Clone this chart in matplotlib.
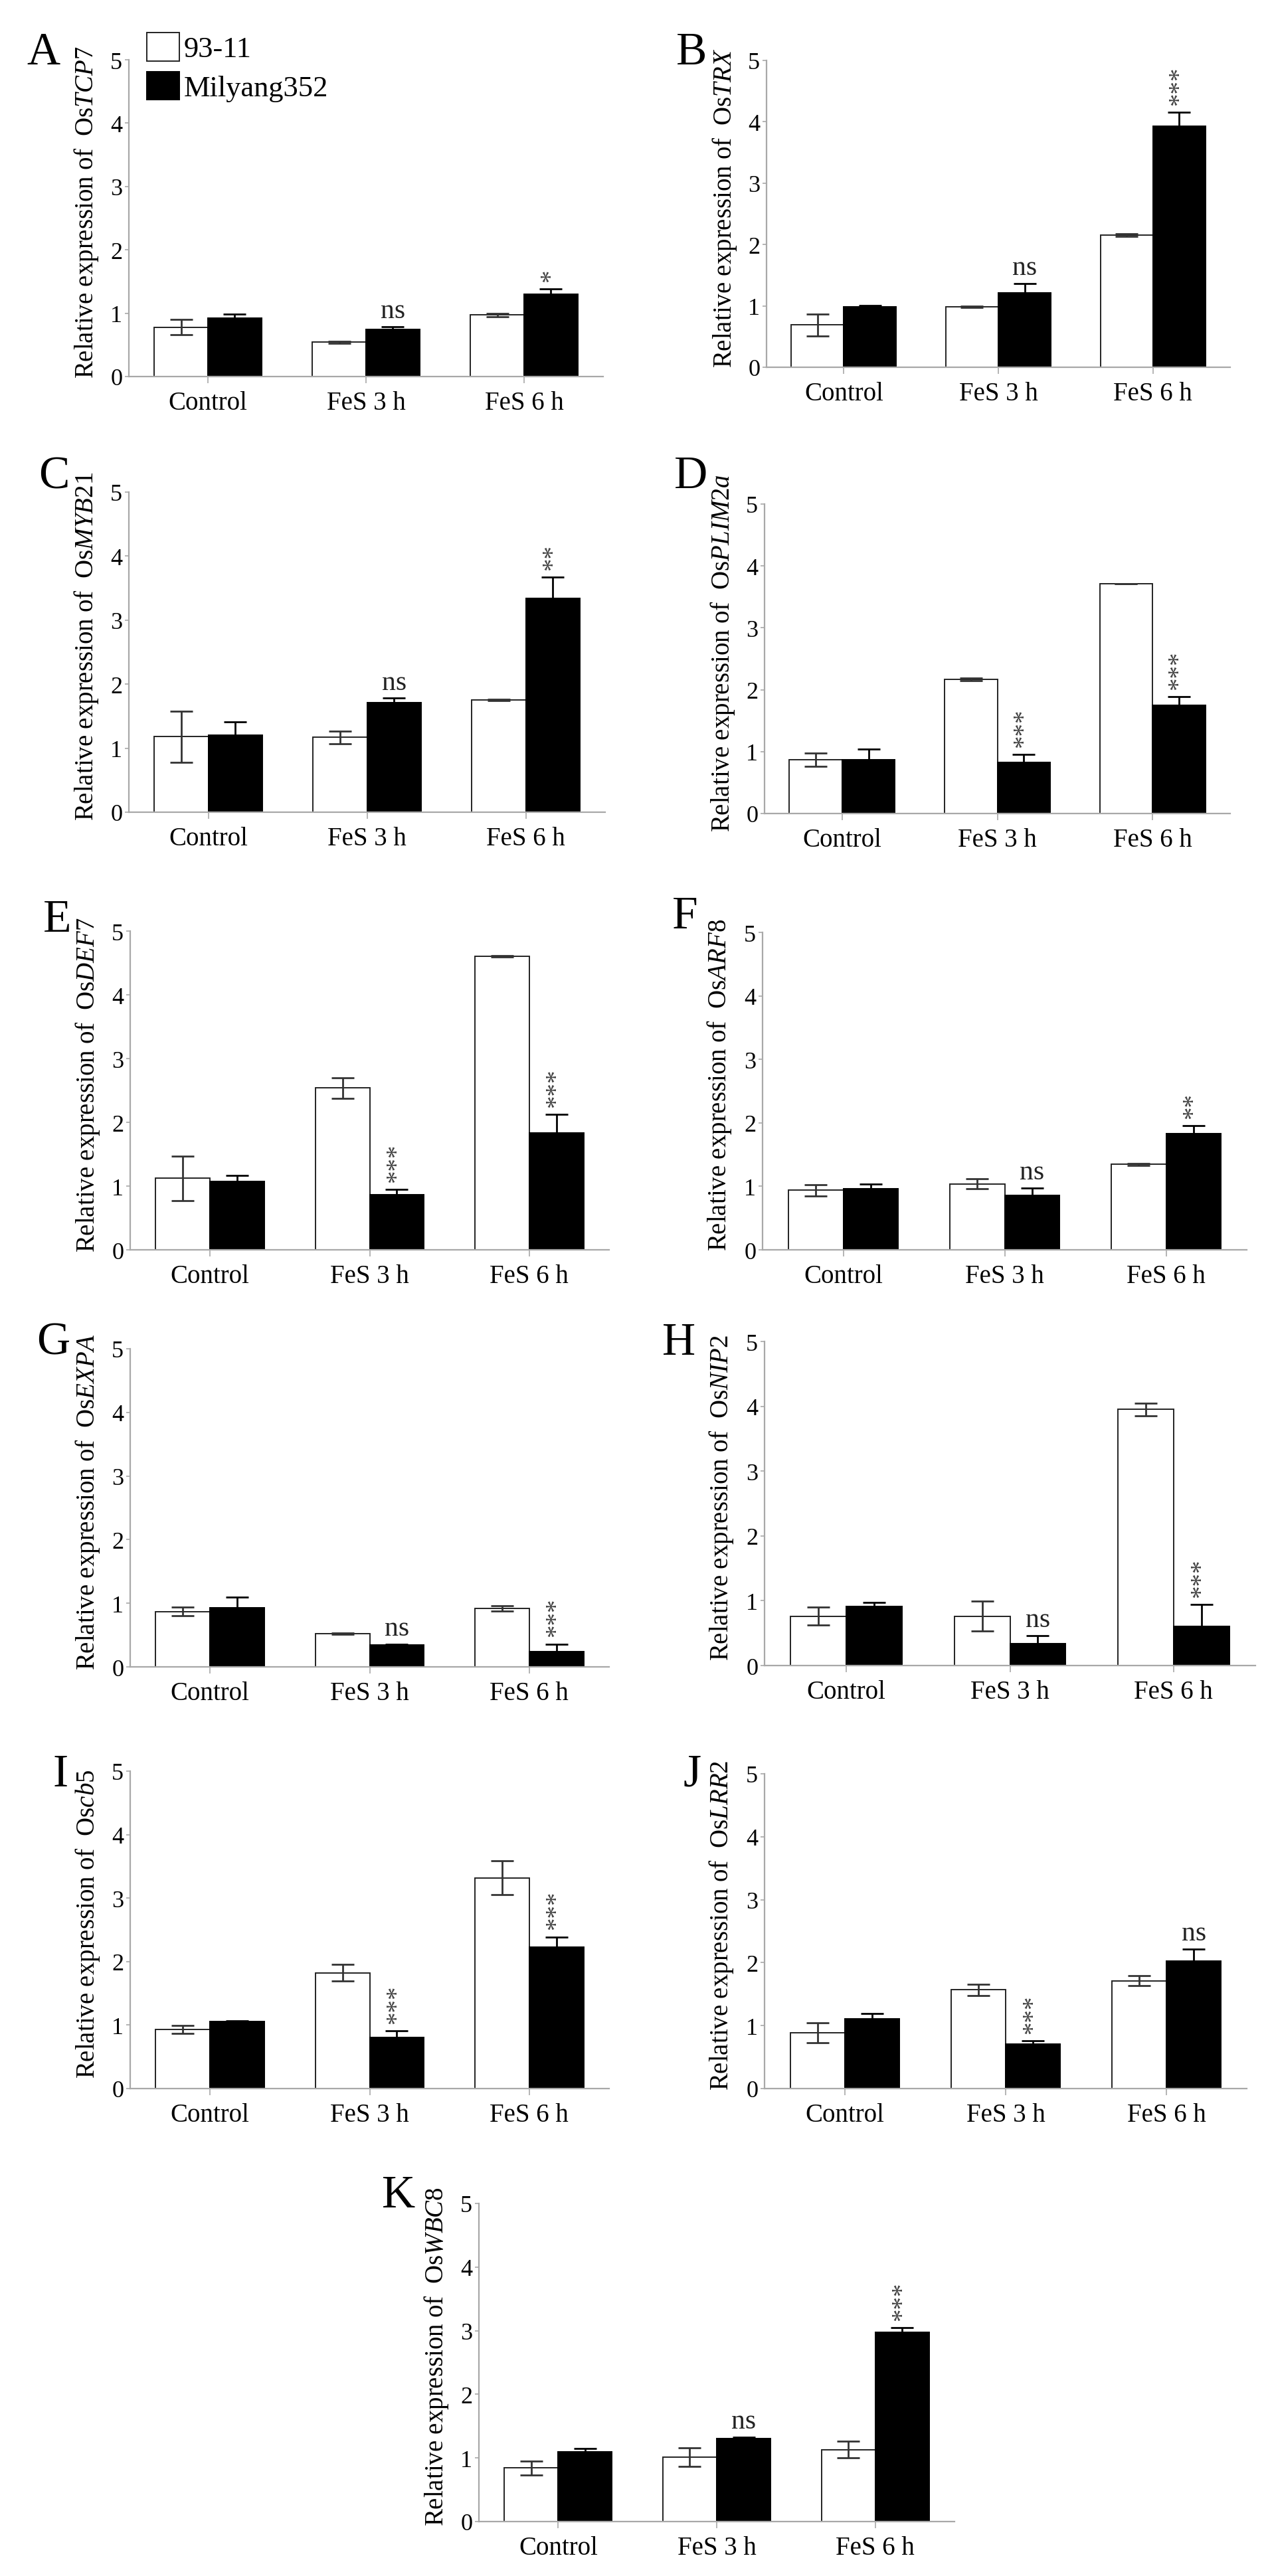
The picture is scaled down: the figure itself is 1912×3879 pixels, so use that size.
import matplotlib
matplotlib.use("Agg")
import matplotlib.pyplot as plt

plt.rcParams['font.family'] = ['Liberation Serif', 'DejaVu Serif']
plt.rcParams['mathtext.fontset'] = 'custom'
plt.rcParams['mathtext.rm'] = 'Liberation Serif'
plt.rcParams['mathtext.it'] = 'Liberation Serif:italic'

W, H = 1912, 3880

categories = ["Control", "FeS 3 h", "FeS 6 h"]
series_names = ["93-11", "Milyang352"]

panel_letters = ["A", "B", "C", "D", "E", "F", "G", "H", "I", "J", "K"]
genes = ["TCP7", "TRX", "MYB21", "PLIM2a", "DEF7", "ARF8",
         "EXPA", "NIP2", "cb5", "LRR2", "WBC8"]

# 93-11 (white bars)
white_mean = [
    [0.78, 0.54, 0.97],
    [0.69, 0.985, 2.15],
    [1.18, 1.17, 1.75],
    [0.87, 2.17, 3.71],
    [1.12, 2.54, 4.60],
    [0.94, 1.04, 1.345],
    [0.87, 0.52, 0.92],
    [0.76, 0.76, 3.95],
    [0.93, 1.825, 3.32],
    [0.885, 1.57, 1.71],
    [0.845, 1.01, 1.13],
]
white_err = [
    [0.12, 0.02, 0.03],
    [0.18, 0.01, 0.02],
    [0.40, 0.10, 0.01],
    [0.11, 0.02, 0.0],
    [0.35, 0.16, 0.01],
    [0.09, 0.08, 0.02],
    [0.07, 0.01, 0.04],
    [0.14, 0.23, 0.10],
    [0.06, 0.13, 0.27],
    [0.16, 0.09, 0.08],
    [0.11, 0.145, 0.13],
]
# Milyang352 (black bars)
black_mean = [
    [0.92, 0.74, 1.30],
    [0.99, 1.215, 3.925],
    [1.20, 1.71, 3.34],
    [0.87, 0.83, 1.75],
    [1.07, 0.86, 1.83],
    [0.96, 0.855, 1.83],
    [0.93, 0.34, 0.24],
    [0.915, 0.34, 0.605],
    [1.06, 0.81, 2.23],
    [1.11, 0.705, 2.03],
    [1.10, 1.30, 2.98],
]
black_err = [
    [0.07, 0.05, 0.08],
    [0.02, 0.15, 0.235],
    [0.21, 0.07, 0.33],
    [0.17, 0.12, 0.14],
    [0.10, 0.09, 0.29],
    [0.08, 0.12, 0.125],
    [0.17, 0.02, 0.12],
    [0.06, 0.12, 0.34],
    [0.01, 0.10, 0.16],
    [0.08, 0.05, 0.19],
    [0.05, 0.03, 0.065],
]
# significance for FeS 3 h and FeS 6 h
signif = [
    ["ns", "*"],
    ["ns", "***"],
    ["ns", "**"],
    ["***", "***"],
    ["***", "***"],
    ["ns", "**"],
    ["ns", "***"],
    ["ns", "***"],
    ["***", "***"],
    ["***", "ns"],
    ["ns", "***"],
]

# axes boxes in pixels: left, right, y of value 0, y of value 5
boxes = [
    (194, 908, 568, 91),
    (1154, 1852, 554, 92),
    (194, 911, 1224, 742),
    (1151, 1852, 1226, 760),
    (196, 917, 1883, 1403),
    (1148, 1877, 1883, 1405),
    (196, 917, 2511, 2032),
    (1151, 1890, 2509, 2021),
    (196, 917, 3146, 2668),
    (1151, 1877, 3146, 2672),
    (721, 1437, 3798, 3319),
]
# panel letter: x left, baseline y (pixels)
letter_pos = [(40, 97), (1018, 97), (58, 735), (1015, 735), (65, 1403),
              (1012, 1398), (55, 2040), (997, 2040), (80, 2690),
              (1028, 2690), (575, 3324)]

fig = plt.figure(figsize=(W / 100, H / 100), dpi=100)
fig.patch.set_facecolor('white')

spine_col = '#a8a8a8'
x = [0.5, 1.5, 2.5]
bw = 0.34

for i in range(len(genes)):
    l, r, y0, y5 = boxes[i]
    ax = fig.add_axes([l / W, 1 - y0 / H, (r - l) / W, (y0 - y5) / H])
    xw = [v - bw / 2 for v in x]
    xb = [v + bw / 2 for v in x]
    bw_bars = ax.bar(xw, white_mean[i], bw, color='white', edgecolor='#222222',
                     linewidth=1.4, zorder=2, label=series_names[0])
    bb_bars = ax.bar(xb, black_mean[i], bw, color='black', edgecolor='black',
                     linewidth=1.4, zorder=2, label=series_names[1])
    ax.errorbar(xw, white_mean[i], yerr=white_err[i], fmt='none', ecolor='#333333',
                elinewidth=2, capsize=12, capthick=2, zorder=3)
    ax.errorbar(xb, black_mean[i], yerr=black_err[i], fmt='none', ecolor='black',
                elinewidth=2, capsize=12, capthick=2, zorder=3)

    for k, s in enumerate(signif[i]):
        j = k + 1
        top = black_mean[i][j] + black_err[i][j]
        if s == "ns":
            ax.annotate(s, (xb[j], top), xytext=(0, 10), textcoords='offset points',
                        ha='center', va='baseline', fontsize=30, color='#222222')
        else:
            ax.annotate(s, (xb[j], top), xytext=(0, 8), textcoords='offset points',
                        ha='center', va='bottom', fontsize=28, color='#444444',
                        rotation=90)

    ax.set_xlim(0, 3)
    ax.set_ylim(0, 5)
    ax.set_yticks([0, 1, 2, 3, 4, 5])
    ax.set_yticklabels(["0", "1", "2", "3", "4", "5"])
    ax.set_xticks(x)
    ax.set_xticklabels(categories)
    for sp in ['top', 'right']:
        ax.spines[sp].set_visible(False)
    for sp in ['left', 'bottom']:
        ax.spines[sp].set_color(spine_col)
        ax.spines[sp].set_linewidth(1.6)
    ax.tick_params(axis='y', labelsize=26, length=4, width=1.2, color=spine_col, pad=3)
    ax.tick_params(axis='x', labelsize=28, length=7, width=1.2, color=spine_col, pad=8)
    ax.set_ylabel("$\\mathrm{Relative\\ expression\\ of\\ \\ Os}\\mathit{" + genes[i] + "}$",
                  fontsize=28)
    ax.yaxis.set_label_coords(-0.06, 0.52)

    if i == 0:
        ax.legend(handles=[bw_bars[0], bb_bars[0]], labels=series_names,
                  loc='upper left', bbox_to_anchor=((221 - l) / (r - l), 1 + (y5 - 50) / (y0 - y5)),
                  frameon=False, fontsize=32, handlelength=1.1, handleheight=1.1,
                  handletextpad=0.15, labelspacing=0.3, borderpad=0, borderaxespad=0)

    lx, ly = letter_pos[i]
    fig.text(lx / W, 1 - ly / H, panel_letters[i], fontsize=50, va='baseline', ha='left')

fig.savefig("out.png", dpi=100, facecolor='white')
